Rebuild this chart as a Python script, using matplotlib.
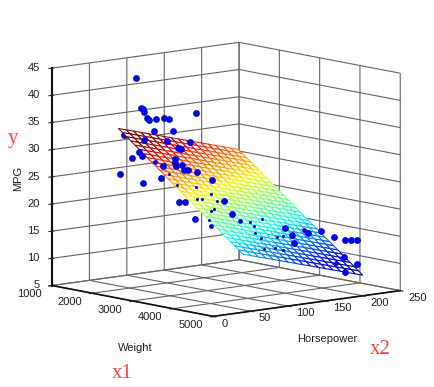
import matplotlib
matplotlib.use("Agg")
import matplotlib.pyplot as plt
import numpy as np

plt.rcParams['font.family'] = ['Liberation Sans', 'DejaVu Sans']

# points that sit in front of the mesh
weight = [2030, 2098, 2123, 2140, 2169, 2200, 2293, 2396, 2463, 2801, 2268, 2514, 2140, 2430, 2732,
          2578, 2617, 2067, 2105, 1987, 1823, 2539, 2536, 2545, 2629, 2385, 2651, 2702, 2821, 2127,
          2357, 3005, 2587, 2668, 3162, 3271, 2792, 3946, 4035, 4249, 4061, 4415, 4577, 4725, 4802,
          4879, 4709, 4879, 4725]
horsepower = [56.4, 59.9, 61.2, 62, 63.5, 65, 69.7, 74.8, 78.2, 95, 68.4, 80.7, 62, 76.5, 91.6,
              83.9, 85.8, 58.4, 60.3, 54.3, 46.2, 81.9, 81.8, 82.3, 86.5, 74.3, 87.6, 90.1, 96.1, 61.4,
              72.9, 105.3, 84.4, 88.4, 113.1, 118.6, 94.6, 152.3, 156.8, 167.4, 158, 175.7, 183.9, 191.3, 195.1,
              198.9, 190.4, 198.9, 191.3]
mpg = [43.6, 38.1, 38.0, 37.3, 36.3, 36.0, 36.1, 36.4, 36.2, 37.5, 33.9, 34.1, 32.2, 32.2, 32.2,
       30.9, 30.7, 30.0, 29.3, 28.8, 25.8, 28.9, 28.2, 27.7, 27.9, 27.5, 27.0, 26.9, 26.7, 24.3,
       25.3, 25.2, 21.0, 21.0, 21.4, 19.2, 18.0, 16.9, 15.7, 16.1, 14.2, 16.6, 15.6, 15.0, 15.1,
       15.1, 11.9, 10.7, 9.2]

# one point behind the corner of the mesh
weight_behind = [1872]
horsepower_behind = [48.6]
mpg_behind = [33.0]

# points cut by the mesh, half showing
weight_cut = [2277, 4194, 3367, 2996, 4610]
horsepower_cut = [68.8, 164.7, 123.3, 104.8, 185.5]
mpg_cut = [28.3, 16.6, 17.9, 16.8, 10.7]

# points cut by the mesh, only a speck showing
weight_speck = [2566, 2801, 2821, 2885, 2992, 3077, 2996, 3041, 2971, 3495, 3555, 3652, 3558, 3635,
                3686, 3844, 3920, 3823, 3920, 2459]
horsepower_speck = [83.3, 95, 96.1, 99.3, 104.6, 108.8, 104.8, 107, 103.5, 129.7, 132.7, 137.6, 132.9, 136.8,
                    139.3, 147.2, 151, 146.2, 151, 78]
mpg_speck = [24.2, 23.9, 21.6, 21.7, 22.6, 21.4, 19.5, 19.9, 17.9, 17.8, 17.0, 18.4, 15.7, 14.9,
             12.8, 15.1, 15.4, 13.1, 12.8, 26.2]

# fitted plane
fit_weight = [1795, 1898, 2001, 2104, 2207, 2310, 2413, 2516, 2619, 2722, 2825, 2928, 3031, 3134, 3237, 3340,
              3443, 3546, 3649, 3752, 3855, 3958, 4061, 4164, 4267, 4370, 4473, 4576, 4679, 4782, 4885]
fit_hp = [46, 56, 66, 76, 86, 96, 106, 116, 126, 136, 146, 156, 166, 176, 186, 196, 206]
fit_mpg = [
    [34.15, 33.53, 32.90, 32.28, 31.65, 31.03, 30.40, 29.78, 29.15, 28.53, 27.90, 27.28, 26.65, 26.03, 25.40, 24.78, 24.15, 23.53, 22.90, 22.28, 21.65, 21.03, 20.40, 19.78, 19.15, 18.53, 17.90, 17.28, 16.65, 16.03, 15.40],
    [33.72, 33.10, 32.47, 31.85, 31.22, 30.60, 29.97, 29.35, 28.72, 28.10, 27.47, 26.85, 26.22, 25.60, 24.97, 24.35, 23.72, 23.10, 22.47, 21.85, 21.22, 20.60, 19.97, 19.35, 18.72, 18.10, 17.47, 16.85, 16.22, 15.60, 14.97],
    [33.29, 32.67, 32.04, 31.42, 30.79, 30.17, 29.54, 28.92, 28.29, 27.67, 27.04, 26.42, 25.79, 25.17, 24.54, 23.92, 23.29, 22.67, 22.04, 21.42, 20.79, 20.17, 19.54, 18.92, 18.29, 17.67, 17.04, 16.42, 15.79, 15.17, 14.54],
    [32.86, 32.24, 31.61, 30.99, 30.36, 29.74, 29.11, 28.49, 27.86, 27.24, 26.61, 25.99, 25.36, 24.74, 24.11, 23.49, 22.86, 22.24, 21.61, 20.99, 20.36, 19.74, 19.11, 18.49, 17.86, 17.24, 16.61, 15.99, 15.36, 14.74, 14.11],
    [32.43, 31.81, 31.18, 30.56, 29.93, 29.31, 28.68, 28.06, 27.43, 26.81, 26.18, 25.56, 24.93, 24.31, 23.68, 23.06, 22.43, 21.81, 21.18, 20.56, 19.93, 19.31, 18.68, 18.06, 17.43, 16.81, 16.18, 15.56, 14.93, 14.31, 13.68],
    [32.00, 31.38, 30.75, 30.13, 29.50, 28.88, 28.25, 27.63, 27.00, 26.38, 25.75, 25.13, 24.50, 23.88, 23.25, 22.63, 22.00, 21.38, 20.75, 20.13, 19.50, 18.88, 18.25, 17.63, 17.00, 16.38, 15.75, 15.13, 14.50, 13.88, 13.25],
    [31.57, 30.95, 30.32, 29.70, 29.07, 28.45, 27.82, 27.20, 26.57, 25.95, 25.32, 24.70, 24.07, 23.45, 22.82, 22.20, 21.57, 20.95, 20.32, 19.70, 19.07, 18.45, 17.82, 17.20, 16.57, 15.95, 15.32, 14.70, 14.07, 13.45, 12.82],
    [31.14, 30.52, 29.89, 29.27, 28.64, 28.02, 27.39, 26.77, 26.14, 25.52, 24.89, 24.27, 23.64, 23.02, 22.39, 21.77, 21.14, 20.52, 19.89, 19.27, 18.64, 18.02, 17.39, 16.77, 16.14, 15.52, 14.89, 14.27, 13.64, 13.02, 12.39],
    [30.71, 30.09, 29.46, 28.84, 28.21, 27.59, 26.96, 26.34, 25.71, 25.09, 24.46, 23.84, 23.21, 22.59, 21.96, 21.34, 20.71, 20.09, 19.46, 18.84, 18.21, 17.59, 16.96, 16.34, 15.71, 15.09, 14.46, 13.84, 13.21, 12.59, 11.96],
    [30.28, 29.66, 29.03, 28.41, 27.78, 27.16, 26.53, 25.91, 25.28, 24.66, 24.03, 23.41, 22.78, 22.16, 21.53, 20.91, 20.28, 19.66, 19.03, 18.41, 17.78, 17.16, 16.53, 15.91, 15.28, 14.66, 14.03, 13.41, 12.78, 12.16, 11.53],
    [29.85, 29.23, 28.60, 27.98, 27.35, 26.73, 26.10, 25.48, 24.85, 24.23, 23.60, 22.98, 22.35, 21.73, 21.10, 20.48, 19.85, 19.23, 18.60, 17.98, 17.35, 16.73, 16.10, 15.48, 14.85, 14.23, 13.60, 12.98, 12.35, 11.73, 11.10],
    [29.42, 28.80, 28.17, 27.55, 26.92, 26.30, 25.67, 25.05, 24.42, 23.80, 23.17, 22.55, 21.92, 21.30, 20.67, 20.05, 19.42, 18.80, 18.17, 17.55, 16.92, 16.30, 15.67, 15.05, 14.42, 13.80, 13.17, 12.55, 11.92, 11.30, 10.67],
    [28.99, 28.37, 27.74, 27.12, 26.49, 25.87, 25.24, 24.62, 23.99, 23.37, 22.74, 22.12, 21.49, 20.87, 20.24, 19.62, 18.99, 18.37, 17.74, 17.12, 16.49, 15.87, 15.24, 14.62, 13.99, 13.37, 12.74, 12.12, 11.49, 10.87, 10.24],
    [28.56, 27.94, 27.31, 26.69, 26.06, 25.44, 24.81, 24.19, 23.56, 22.94, 22.31, 21.69, 21.06, 20.44, 19.81, 19.19, 18.56, 17.94, 17.31, 16.69, 16.06, 15.44, 14.81, 14.19, 13.56, 12.94, 12.31, 11.69, 11.06, 10.44, 9.81],
    [28.13, 27.51, 26.88, 26.26, 25.63, 25.01, 24.38, 23.76, 23.13, 22.51, 21.88, 21.26, 20.63, 20.01, 19.38, 18.76, 18.13, 17.51, 16.88, 16.26, 15.63, 15.01, 14.38, 13.76, 13.13, 12.51, 11.88, 11.26, 10.63, 10.01, 9.38],
    [27.70, 27.08, 26.45, 25.83, 25.20, 24.58, 23.95, 23.33, 22.70, 22.08, 21.45, 20.83, 20.20, 19.58, 18.95, 18.33, 17.70, 17.08, 16.45, 15.83, 15.20, 14.58, 13.95, 13.33, 12.70, 12.08, 11.45, 10.83, 10.20, 9.58, 8.95],
    [27.27, 26.65, 26.02, 25.40, 24.77, 24.15, 23.52, 22.90, 22.27, 21.65, 21.02, 20.40, 19.77, 19.15, 18.52, 17.90, 17.27, 16.65, 16.02, 15.40, 14.77, 14.15, 13.52, 12.90, 12.27, 11.65, 11.02, 10.40, 9.77, 9.15, 8.52],
]

weight_ticks = [1000, 2000, 3000, 4000, 5000]
hp_ticks = [0, 50, 100, 150, 200, 250]
mpg_ticks = [5, 10, 15, 20, 25, 30, 35, 40, 45]

W, H = 434, 387
fig = plt.figure(figsize=(W / 100, H / 100), dpi=100)

# square axes centred on the middle of the box
side = 380
cx, cy = 221, 184.5
ax = fig.add_axes([(cx - side / 2) / W, 1 - (cy + side / 2) / H, side / W, side / H],
                  projection='3d', computed_zorder=False)
ax.set_proj_type('ortho')
ax.view_init(elev=9.35, azim=-40.3)
ax.set_box_aspect((250, 246, 221), zoom=1.18 * 340 / 380)

ax.set_xlim(1000, 5000)
ax.set_ylim(0, 250)
ax.set_zlim(5, 45)
ax.set_xticks(weight_ticks)
ax.set_yticks(hp_ticks)
ax.set_zticks(mpg_ticks)
ax.tick_params(labelsize=8, colors='#202020', length=2)
ax.tick_params(axis='x', pad=0)
ax.tick_params(axis='y', pad=-1)
ax.tick_params(axis='z', pad=-3)
for lbl in ax.get_xticklabels():
    lbl.set_ha('right')
    lbl.set_va('bottom')
for lbl in ax.get_yticklabels():
    lbl.set_ha('left')
    lbl.set_va('bottom')
for lbl in ax.get_zticklabels():
    lbl.set_ha('right')
    lbl.set_va('center')

for axis in [ax.xaxis, ax.yaxis, ax.zaxis]:
    axis.set_pane_color((1, 1, 1, 0))
    axis.pane.set_edgecolor('#606060')
    axis.pane.set_linewidth(0.8)
    axis._axinfo['grid'].update(color='#666666', linewidth=0.8)
    axis.line.set_color('#111111')
    axis.line.set_linewidth(1.2)
ax.zaxis.line.set_linewidth(1.5)
ax.zaxis.set_ticks_position('lower')

X, Y = np.meshgrid(fit_weight, fit_hp)
Z = np.array(fit_mpg)

ax.scatter(weight_behind, horsepower_behind, mpg_behind, c='#0000f0', s=24, linewidths=0,
           depthshade=False, zorder=1)

surf = ax.plot_surface(X, Y, Z, rstride=1, cstride=1, color='white', shade=False, zorder=2)
norm = plt.Normalize(8.5, 32)
z_face = (Z[:-1, :-1] + Z[1:, 1:]) / 2
surf.set_edgecolor(plt.cm.jet(norm(z_face)).reshape(-1, 4))
surf.set_linewidth(0.75)

ax.scatter(weight, horsepower, mpg, c='#0000f0', s=24, linewidths=0, depthshade=False, zorder=3)
ax.scatter(weight_cut, horsepower_cut, mpg_cut, c='#0000f0', s=12, linewidths=0, depthshade=False, zorder=3)
ax.scatter(weight_speck, horsepower_speck, mpg_speck, c='#0000f0', s=5, linewidths=0, depthshade=False, zorder=3)

fig.text(135 / W, 1 - 348 / H, 'Weight', fontsize=8, ha='center', va='center', color='#202020')
fig.text(327 / W, 1 - 339 / H, 'Horsepower', fontsize=8, ha='center', va='center', color='#202020')
fig.text(18 / W, 1 - 178 / H, 'MPG', fontsize=8, rotation=90, ha='center', va='center', color='#202020')

red = '#f04848'
fig.text(13 / W, 1 - 138 / H, 'y', fontsize=15, family='Liberation Serif', color=red, ha='center', va='center')
fig.text(122 / W, 1 - 373 / H, 'x1', fontsize=15, family='Liberation Serif', color=red, ha='center', va='center')
fig.text(380 / W, 1 - 350 / H, 'x2', fontsize=15, family='Liberation Serif', color=red, ha='center', va='center')

fig.savefig('out.png', dpi=100)
